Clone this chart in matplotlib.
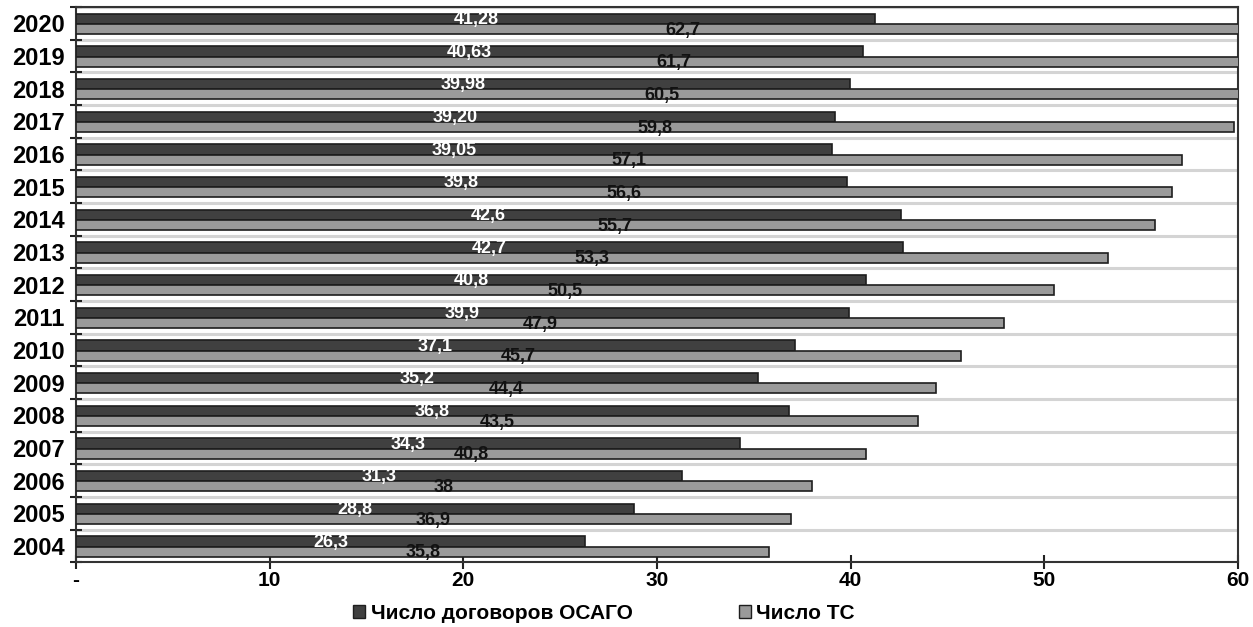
import matplotlib
matplotlib.use("Agg")
import matplotlib.pyplot as plt
from matplotlib.patches import Patch
import numpy as np

years = ["2004", "2005", "2006", "2007", "2008", "2009", "2010", "2011", "2012",
         "2013", "2014", "2015", "2016", "2017", "2018", "2019", "2020"]
osago = [26.3, 28.8, 31.3, 34.3, 36.8, 35.2, 37.1, 39.9, 40.8,
         42.7, 42.6, 39.8, 39.05, 39.20, 39.98, 40.63, 41.28]
osago_labels = ["26,3", "28,8", "31,3", "34,3", "36,8", "35,2", "37,1", "39,9", "40,8",
                "42,7", "42,6", "39,8", "39,05", "39,20", "39,98", "40,63", "41,28"]
ts = [35.8, 36.9, 38, 40.8, 43.5, 44.4, 45.7, 47.9, 50.5,
      53.3, 55.7, 56.6, 57.1, 59.8, 60.5, 61.7, 62.7]
ts_labels = ["35,8", "36,9", "38", "40,8", "43,5", "44,4", "45,7", "47,9", "50,5",
             "53,3", "55,7", "56,6", "57,1", "59,8", "60,5", "61,7", "62,7"]
xticks = [0, 10, 20, 30, 40, 50, 60]
xtick_labels = ["-", "10", "20", "30", "40", "50", "60"]
series_names = ["Число договоров ОСАГО", "Число ТС"]

plt.rcParams['font.family'] = ['Liberation Sans', 'DejaVu Sans']
plt.rcParams['font.weight'] = 'bold'

fig = plt.figure(figsize=(12.53, 6.27), dpi=100)
ax = fig.add_axes([0.0607, 0.103, 0.9273, 0.8858])

y = np.arange(len(years))
h = 0.31
dark = "#404040"
grey = "#9a9a9a"
edge = "#1e1e1e"

ax.barh(y + 0.14, osago, height=h, color=dark, edgecolor=edge, linewidth=1.2, zorder=3)
ax.barh(y - 0.17, ts, height=h, color=grey, edgecolor=edge, linewidth=1.2, zorder=3)

for yi, v, lab in zip(y, osago, osago_labels):
    ax.text(v / 2, yi + 0.12, lab, color="white", ha="center", va="center",
            fontsize=13, fontweight="bold", zorder=5)
for yi, v, lab in zip(y, ts, ts_labels):
    ax.text(v / 2, yi - 0.21, lab, color="#111111", ha="center", va="center",
            fontsize=13, fontweight="bold", zorder=5)

ax.set_xlim(0, 60)
ax.set_ylim(-0.5, len(years) - 0.5)

ax.set_yticks(y)
ax.set_yticklabels(years, fontsize=17, fontweight="bold")
ax.set_yticks(np.arange(-0.5, len(years), 1.0), minor=True)
ax.tick_params(axis="y", which="major", length=0, pad=8)
ax.tick_params(axis="y", which="minor", length=9, direction="inout", width=1.5, color="#222222")

ax.set_xticks(xticks)
ax.set_xticklabels(xtick_labels, fontsize=15, fontweight="bold")
ax.tick_params(axis="x", which="major", length=10, direction="inout", width=1.5,
               color="#222222", pad=1)

ax.grid(axis="y", which="minor", color="#d4d4d4", linewidth=2.2, zorder=0)
ax.grid(axis="y", which="major", visible=False)

for s in ax.spines.values():
    s.set_color("#333333")
    s.set_linewidth(1.5)

handles = [Patch(facecolor=dark, edgecolor=edge, label=series_names[0]),
           Patch(facecolor=grey, edgecolor=edge, label=series_names[1])]
leg = fig.legend(handles=handles, loc="center", bbox_to_anchor=(0.482, 0.022),
                 ncol=2, frameon=False, fontsize=15, handlelength=0.6,
                 handleheight=0.6, handletextpad=0.25, columnspacing=5.1)
for t in leg.get_texts():
    t.set_fontweight("bold")

fig.savefig("out.png", dpi=100)
